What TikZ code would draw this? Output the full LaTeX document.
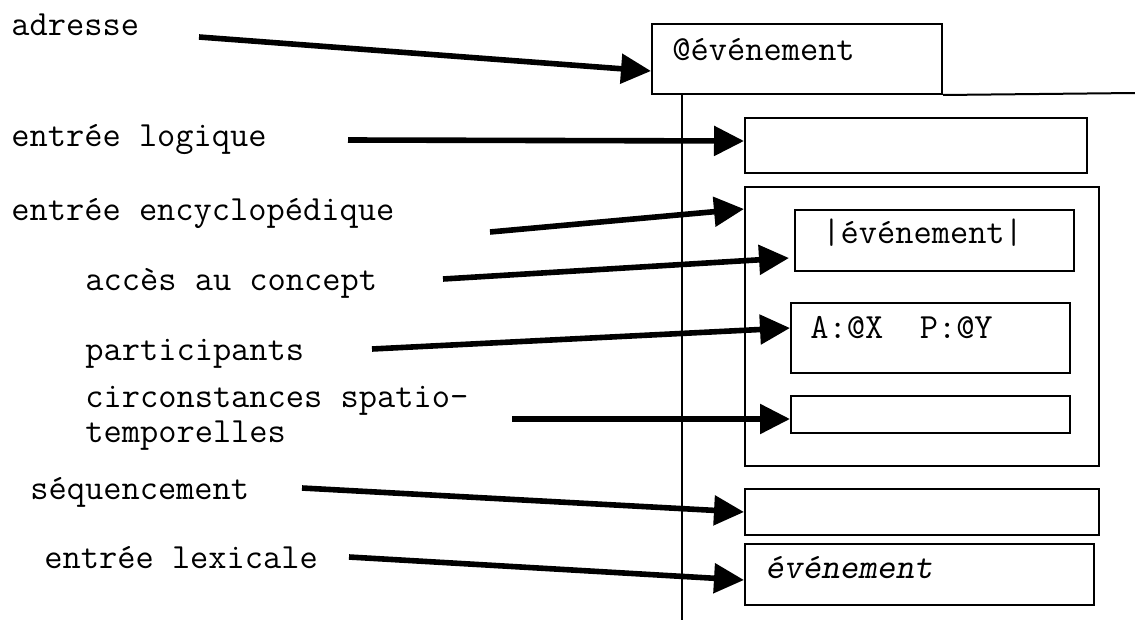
\documentclass[tikz,border=0pt]{standalone}
\usetikzlibrary{arrows.meta,calc,positioning}
\tikzset{
  box-style/.style = {
    rectangle, draw, line width=1pt,
    anchor=north west, inner sep=0pt
  },
  label-style/.style = {
    anchor=base west, inner sep=0pt, align=left,
    font=\ttfamily\fontsize{17.7}{17.5}\selectfont
  },
  link-style/.style = {
    draw, line width=2.8pt,
    -{Triangle[length=15pt,width=14.5pt]}
  },
  rule-style/.style = {
    draw, line width=0.8pt
  }
}
\def\createBox name:#1 at:#2 width:#3 height:#4;{
  \node [box-style, minimum width=#3*0.5pt, minimum height=#4*0.5pt] (#1) at #2 {};
}
\def\createLabel name:#1 at:#2 text:#3;{
  \node [label-style] (#1) at #2 {#3};
}
\def\createLink from:#1 to:#2;{
  \path [link-style] (#1) -- #2;
}

\begin{document}
\begin{tikzpicture}[x=0.5pt, y=-0.5pt]
  \useasboundingbox (0,0) rectangle (1135,621);

  % boxes on the right
  \createBox name:addr at:{(651,23)} width:290 height:70;
  \createBox name:logic at:{(744,117)} width:342 height:55;
  \createBox name:ency at:{(744,186)} width:354 height:279;
  \createBox name:concept at:{(794,209)} width:279 height:61;
  \createBox name:partic at:{(790,302)} width:279 height:70;
  \createBox name:circ at:{(790,395)} width:279 height:37;
  \createBox name:seq at:{(744,488)} width:354 height:46;
  \createBox name:lex at:{(744,543)} width:349 height:61;

  % texts in the boxes
  \createLabel name:addr-txt at:{($(addr.north west)+(21,37)$)} text:{@événement};
  \createLabel name:concept-txt at:{($(concept.north west)+(28,34)$)} text:{|événement|};
  \createLabel name:partic-txt at:{($(partic.north west)+(20,36)$)} text:{A:@X~~P:@Y};
  \createLabel name:lex-txt at:{($(lex.north west)+(21,35)$)} text:{\slshape événement};

  % rules
  \coordinate (rim) at (1135,93);
  \coordinate (spine-end) at (682,620);
  \path [rule-style, line width=1pt] (addr.south east) -- (rim);
  \path [rule-style] (addr.south -| spine-end) -- (spine-end);

  % labels on the left
  \createLabel name:adresse at:{(11,35)} text:{adresse};
  \createLabel name:logique at:{(11,146)} text:{entrée logique};
  \createLabel name:encyclo at:{(11,220)} text:{entrée encyclopédique};
  \createLabel name:acces at:{(85,290)} text:{accès au concept};
  \createLabel name:partics at:{(85,360)} text:{participants};
  \createLabel name:circons at:{(85,442)} text:{circonstances spatio-\\temporelles};
  \createLabel name:sequence at:{(30,499)} text:{séquencement};
  \createLabel name:lexicale at:{(44,568)} text:{entrée lexicale};

  % links
  \coordinate (adresse-tail) at (199,37);
  \coordinate (logique-tail) at (348,140);
  \coordinate (encyclo-tail) at (490,232);
  \coordinate (acces-tail) at (443,279);
  \coordinate (partics-tail) at (372,349);
  \coordinate (circons-tail) at (512,419);
  \coordinate (sequence-tail) at (302,488);
  \coordinate (lexicale-tail) at (349,557);

  \createLink from:adresse-tail to:{($(addr.west)+(0,12)$)};
  \createLink from:logique-tail to:{($(logic.west)+(0,-4.5)$)};
  \createLink from:encyclo-tail to:{($(ency.north west)+(0,23)$)};
  \createLink from:acces-tail to:{($(concept.west)+(-5,17.5)$)};
  \createLink from:partics-tail to:{($(partic.west)+(0,-10)$)};
  \createLink from:circons-tail to:{($(circ.west)+(0,4.5)$)};
  \createLink from:sequence-tail to:{(seq.west)};
  \createLink from:lexicale-tail to:{($(lex.west)+(0,5.5)$)};
\end{tikzpicture}
\end{document}
